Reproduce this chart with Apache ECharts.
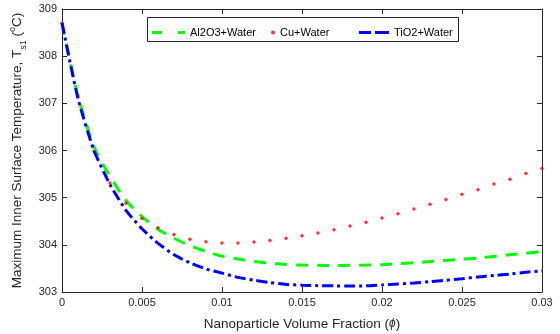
<!DOCTYPE html>
<html><head><meta charset="utf-8">
<script src="https://cdn.jsdelivr.net/npm/echarts@6/dist/echarts.min.js"></script>
<style>html,body{margin:0;padding:0;background:#fff}#c{width:560px;height:334px}</style>
</head><body><div id="c"></div>
<script>
var phi = [0,0.001,0.002,0.003,0.004,0.005,0.006,0.007,0.008,0.009,0.010,0.011,0.012,0.013,0.014,0.015,0.016,0.017,0.018,0.019,0.020,0.021,0.022,0.023,0.024,0.025,0.026,0.027,0.028,0.029,0.030];
var al2o3 = [308.7,307.15,306.08,305.45,304.94,304.6,304.33,304.14,303.98,303.86,303.76,303.70,303.645,303.61,303.585,303.57,303.565,303.56,303.565,303.57,303.58,303.60,303.62,303.645,303.67,303.695,303.72,303.755,303.79,303.82,303.86];
var cu = [308.7,307.15,305.98,305.31,304.88,304.56,304.36,304.22,304.12,304.065,304.04,304.04,304.06,304.09,304.14,304.19,304.25,304.32,304.40,304.48,304.57,304.66,304.76,304.86,304.96,305.07,305.17,305.29,305.39,305.51,305.62];
var tio2 = [308.7,307.1,306.0,305.28,304.73,304.34,304.03,303.79,303.62,303.49,303.40,303.31,303.25,303.20,303.16,303.145,303.135,303.13,303.125,303.13,303.15,303.17,303.19,303.22,303.25,303.28,303.32,303.35,303.38,303.42,303.45];
var names = ['Al2O3+Water','Cu+Water','TiO2+Water'];

function pairs(ys){ return phi.map(function(x,i){ return [x, ys[i]]; }); }
var axisCol = '#262626';
var FONT = 'Liberation Sans, Arial, sans-serif';

var chart = echarts.init(document.getElementById('c'), null, {renderer:'canvas'});
var xBase = {type:'value', min:0, max:0.03, interval:0.005,
  axisLine:{show:true, onZero:false, lineStyle:{color:axisCol, width:1}},
  axisTick:{show:true, inside:true, length:5, lineStyle:{color:axisCol}},
  splitLine:{show:false}};
var yBase = {type:'value', min:303, max:309, interval:1,
  axisLine:{show:true, onZero:false, lineStyle:{color:axisCol, width:1}},
  axisTick:{show:true, inside:true, length:5, lineStyle:{color:axisCol}},
  splitLine:{show:false}};

chart.setOption({
  animation:false,
  backgroundColor:'#fff',
  grid:{left:62, right:18, top:9, bottom:42, containLabel:false, outerBoundsMode:'none'},
  xAxis:[
    Object.assign({}, xBase, {position:'bottom',
      axisLabel:{show:true, color:axisCol, fontSize:11, fontFamily:FONT, margin:5},
      name:'Nanoparticle Volume Fraction ({i|ϕ})', nameLocation:'middle', nameGap:25,
      nameTextStyle:{color:axisCol, fontSize:13.5, fontFamily:FONT,
        rich:{i:{fontStyle:'italic', fontSize:12, fontFamily:FONT, color:axisCol}}}}),
    Object.assign({}, xBase, {position:'top', axisLabel:{show:false}})
  ],
  yAxis:[
    Object.assign({}, yBase, {position:'left',
      axisLabel:{show:true, color:axisCol, fontSize:11, fontFamily:FONT, margin:5},
      name:'Maximum Inner Surface Temperature, T{sub|s1} ({sup|o}C)', nameLocation:'middle', nameGap:33,
      nameTextStyle:{color:axisCol, fontSize:13.5, fontFamily:FONT, lineHeight:20, verticalAlign:'middle',
        rich:{
          sub:{fontSize:9, fontFamily:FONT, color:axisCol, verticalAlign:'bottom', lineHeight:15},
          sup:{fontSize:9, fontFamily:FONT, color:axisCol, verticalAlign:'top', lineHeight:15}
        }}}),
    Object.assign({}, yBase, {position:'right', axisLabel:{show:false}})
  ],
  legend:[
    {data:[names[0]], left:152, top:27, itemWidth:33, itemHeight:3, padding:0, itemGap:0,
      icon:'path://M0,0h10v3h-10zM26,0h7v3h-7z',
      textStyle:{color:'#000', fontSize:11, fontFamily:FONT}},
    {data:[names[1]], left:271, top:27, itemWidth:4, itemHeight:4, padding:0, icon:'circle',
      textStyle:{color:'#000', fontSize:11, fontFamily:FONT}},
    {data:[names[2]], left:359, top:27, itemWidth:30, itemHeight:3, padding:0,
      icon:'path://M0,0h12v3h-12zM16,0h14v3h-14z',
      textStyle:{color:'#000', fontSize:11, fontFamily:FONT}}
  ],
  graphic:[{type:'rect', left:147, top:17, shape:{width:311, height:24},
    style:{fill:'#fff', stroke:'#262626', lineWidth:1}, z:-1, zlevel:0}],
  series:[
    {name:names[0], type:'line', data:pairs(al2o3), symbol:'none', smooth:0.2, z:2,
      itemStyle:{color:'#00ff00'},
      lineStyle:{color:'#00ff00', width:3, type:[12,9]}},
    {name:names[1], type:'scatter', data:pairs(cu), symbol:'circle', symbolSize:3.5, z:3,
      itemStyle:{color:'#ff0000'}},
    {name:names[2], type:'line', data:pairs(tio2), symbol:'none', smooth:0.2, z:4,
      itemStyle:{color:'#0000ff'},
      lineStyle:{color:'#0000ff', width:3, type:[11,4,3,4]}}
  ]
});
</script></body></html>
